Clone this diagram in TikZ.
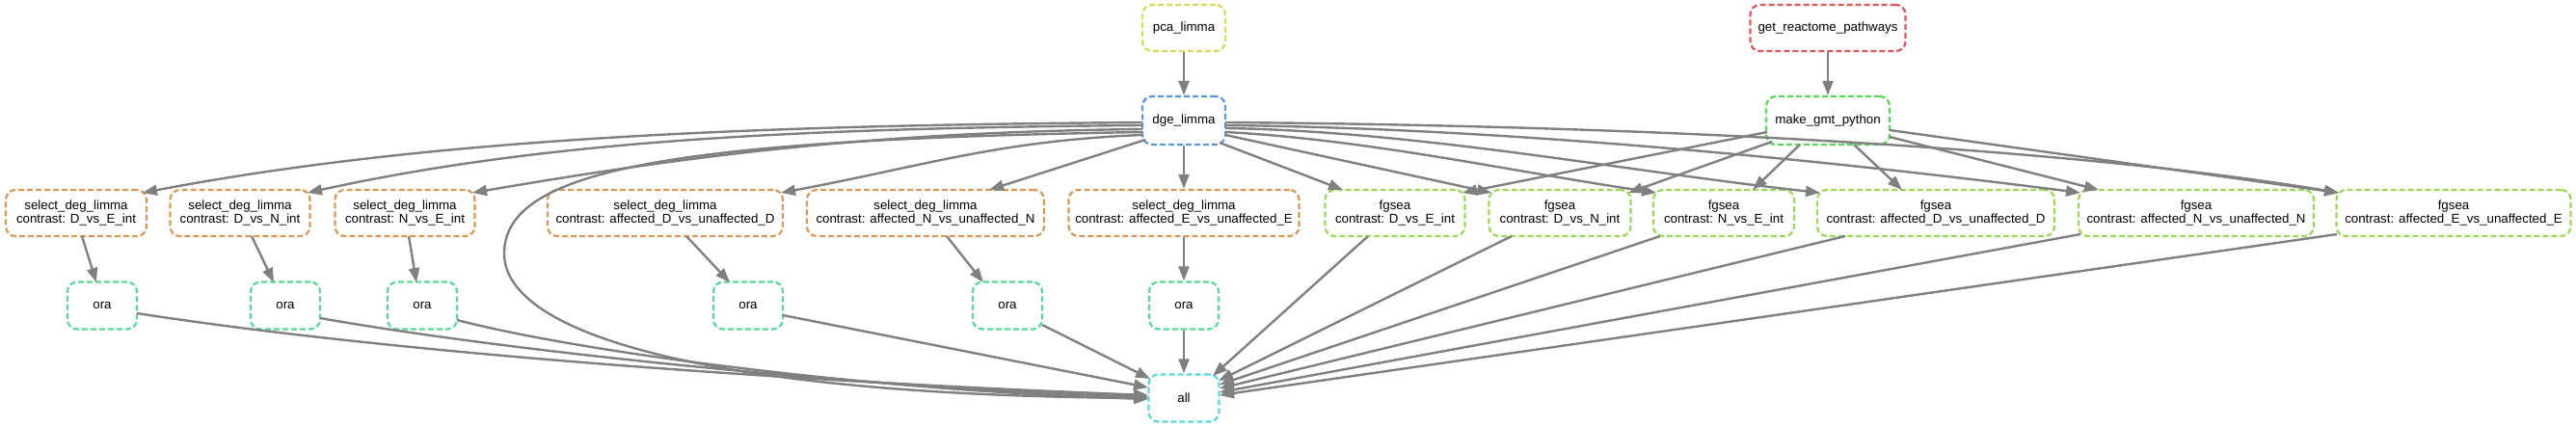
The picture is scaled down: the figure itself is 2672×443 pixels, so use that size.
\documentclass[tikz,border=0pt]{standalone}
\usepackage{fontspec}
\setmainfont{Liberation Sans}
\usetikzlibrary{arrows.meta}
\definecolor{cred}{RGB}{217,87,87}
\definecolor{corange}{RGB}{217,152,87}
\definecolor{cyellow}{RGB}{217,217,87}
\definecolor{cfgsea}{RGB}{152,217,87}
\definecolor{cgreen}{RGB}{87,217,87}
\definecolor{cteal}{RGB}{87,217,152}
\definecolor{ccyan}{RGB}{87,217,217}
\definecolor{cblue}{RGB}{87,152,217}
\definecolor{edgegray}{RGB}{128,128,128}
\begin{document}
\begin{tikzpicture}[x=1pt,y=-1pt,
  box/.style={draw, dash pattern=on 6pt off 3pt, line width=2.2pt, rounded corners=10pt,
    minimum height=48pt, inner sep=0pt, align=center,
    font=\fontsize{13.3}{14.3}\selectfont},
  conn/.style={draw=edgegray, line width=2.4pt, -{Triangle[length=15pt,width=11pt]}}]
\useasboundingbox (0,0) rectangle (2672,443);
% top rows
\node[box, draw=cyellow, minimum width=86pt] (pca) at (1228,29) {pca\_limma};
\node[box, draw=cred, minimum width=161pt] (rea) at (1896,29) {get\_reactome\_pathways};
\node[box, draw=cblue, minimum width=86pt, minimum height=50pt] (dge) at (1228,125) {dge\_limma};
\node[box, draw=cgreen, minimum width=128pt, minimum height=50pt] (gmt) at (1896,125) {make\_gmt\_python};
% select_deg_limma row
\node[box, draw=corange, minimum width=146pt] (sdl1) at (79,221) {select\_deg\_limma\\contrast: D\_vs\_E\_int};
\node[box, draw=corange, minimum width=145pt] (sdl2) at (249,221) {select\_deg\_limma\\contrast: D\_vs\_N\_int};
\node[box, draw=corange, minimum width=145pt] (sdl3) at (420,221) {select\_deg\_limma\\contrast: N\_vs\_E\_int};
\node[box, draw=corange, minimum width=244pt] (sdl4) at (690,221) {select\_deg\_limma\\contrast: affected\_D\_vs\_unaffected\_D};
\node[box, draw=corange, minimum width=246pt] (sdl5) at (960,221) {select\_deg\_limma\\contrast: affected\_N\_vs\_unaffected\_N};
\node[box, draw=corange, minimum width=239pt] (sdl6) at (1228,221) {select\_deg\_limma\\contrast: affected\_E\_vs\_unaffected\_E};
% fgsea row
\node[box, draw=cfgsea, minimum width=145pt] (fg1) at (1447,221) {fgsea\\contrast: D\_vs\_E\_int};
\node[box, draw=cfgsea, minimum width=147pt] (fg2) at (1618,221) {fgsea\\contrast: D\_vs\_N\_int};
\node[box, draw=cfgsea, minimum width=146pt] (fg3) at (1788,221) {fgsea\\contrast: N\_vs\_E\_int};
\node[box, draw=cfgsea, minimum width=246pt] (fg4) at (2008,221) {fgsea\\contrast: affected\_D\_vs\_unaffected\_D};
\node[box, draw=cfgsea, minimum width=244pt] (fg5) at (2278,221) {fgsea\\contrast: affected\_N\_vs\_unaffected\_N};
\node[box, draw=cfgsea, minimum width=243pt] (fg6) at (2545,221) {fgsea\\contrast: affected\_E\_vs\_unaffected\_E};
% ora row
\node[box, draw=cteal, minimum width=72pt, minimum height=49pt] (ora1) at (106,317) {ora};
\node[box, draw=cteal, minimum width=72pt, minimum height=49pt] (ora2) at (296,317) {ora};
\node[box, draw=cteal, minimum width=72pt, minimum height=49pt] (ora3) at (438,317) {ora};
\node[box, draw=cteal, minimum width=72pt, minimum height=49pt] (ora4) at (776,317) {ora};
\node[box, draw=cteal, minimum width=72pt, minimum height=49pt] (ora5) at (1045,317) {ora};
\node[box, draw=cteal, minimum width=72pt, minimum height=49pt] (ora6) at (1228,317) {ora};
% all
\node[box, draw=ccyan, minimum width=73pt, minimum height=49pt] (all) at (1228,413) {all};
\coordinate (bendpt) at (523,263);

% edges top
\draw[conn] (pca.south) -- (dge.north);
\draw[conn] (rea.south) -- (gmt.north);
% dge -> select_deg_limma
\draw[conn] ([shift={(-43,2)}]dge.center) .. controls +(-400,3) and +(300,-57) .. ([shift={(69,-21)}]sdl1.center);
\draw[conn] ([shift={(-43,5)}]dge.center) .. controls +(-350,3) and +(250,-55) .. ([shift={(70,-21)}]sdl2.center);
\draw[conn] ([shift={(-43,9)}]dge.center) .. controls +(-300,3) and +(200,-34) .. ([shift={(70,-21)}]sdl3.center);
\draw[conn] ([shift={(-43,15)}]dge.center) .. controls +(-150,6) and +(150,-28) .. ([shift={(120,-21)}]sdl4.center);
\draw[conn] ([shift={(-40,20)}]dge.center) -- ([shift={(66,-24)}]sdl5.center);
\draw[conn] (dge.south) -- (sdl6.north);
% dge -> all
\draw[conn] ([shift={(-43,12)}]dge.center) .. controls +(-485,8) and +(0,-88) .. (bendpt)
  .. controls +(0,87) and +(-441,-3) .. ([shift={(-37,0)}]all.center);
% dge -> fgsea
\draw[conn] ([shift={(37,23)}]dge.center) -- ([shift={(-54,-24)}]fg1.center);
\draw[conn] ([shift={(43,15)}]dge.center) -- ([shift={(-71,-21)}]fg2.center);
\draw[conn] ([shift={(43,12)}]dge.center) .. controls +(150,8) and +(-150,-22) .. ([shift={(-70,-21)}]fg3.center);
\draw[conn] ([shift={(43,8)}]dge.center) .. controls +(200,3) and +(-200,-22) .. ([shift={(-120,-21)}]fg4.center);
\draw[conn] ([shift={(43,5)}]dge.center) .. controls +(300,3) and +(-250,-32) .. ([shift={(-120,-21)}]fg5.center);
\draw[conn] ([shift={(43,2)}]dge.center) .. controls +(400,3) and +(-300,-50) .. ([shift={(-119,-21)}]fg6.center);
% make_gmt -> fgsea
\draw[conn] ([shift={(-63,12)}]gmt.center) -- ([shift={(70,-21)}]fg1.center);
\draw[conn] ([shift={(-58,22)}]gmt.center) -- ([shift={(71,-21)}]fg2.center);
\draw[conn] ([shift={(-29,25)}]gmt.center) -- ([shift={(30,-24)}]fg3.center);
\draw[conn] ([shift={(27,25)}]gmt.center) -- ([shift={(-35,-24)}]fg4.center);
\draw[conn] ([shift={(64,17)}]gmt.center) -- ([shift={(-101,-24)}]fg5.center);
\draw[conn] ([shift={(64,10)}]gmt.center) -- ([shift={(-119,-21)}]fg6.center);
% select -> ora
\draw[conn] ([shift={(6,24)}]sdl1.center) -- ([shift={(-6,-24)}]ora1.center);
\draw[conn] ([shift={(12,24)}]sdl2.center) -- ([shift={(-12,-24)}]ora2.center);
\draw[conn] ([shift={(4,24)}]sdl3.center) -- ([shift={(-6,-24)}]ora3.center);
\draw[conn] ([shift={(22,24)}]sdl4.center) -- ([shift={(-19,-24)}]ora4.center);
\draw[conn] ([shift={(22,24)}]sdl5.center) -- ([shift={(-25,-24)}]ora5.center);
\draw[conn] (sdl6.south) -- (ora6.north);
% ora -> all
\draw[conn] ([shift={(36,8)}]ora1.center) .. controls +(258,40) and +(-391,-15) .. ([shift={(-37,-3)}]all.center);
\draw[conn] ([shift={(36,13)}]ora2.center) .. controls +(168,30) and +(-341,-12) .. ([shift={(-37,-1)}]all.center);
\draw[conn] ([shift={(36,15)}]ora3.center) .. controls +(126,33) and +(-291,-9) .. ([shift={(-37,1)}]all.center);
\draw[conn] ([shift={(36,10)}]ora4.center) -- ([shift={(-37,-11)}]all.center);
\draw[conn] ([shift={(36,20)}]ora5.center) -- ([shift={(-35,-20)}]all.center);
\draw[conn] (ora6.south) -- (all.north);
% fgsea -> all
\draw[conn] ([shift={(-28,24)}]fg1.center) -- ([shift={(30,-23)}]all.center);
\draw[conn] ([shift={(-50,24)}]fg2.center) -- ([shift={(36,-18)}]all.center);
\draw[conn] ([shift={(-66,24)}]fg3.center) -- ([shift={(37,-14)}]all.center);
\draw[conn] ([shift={(-94,24)}]fg4.center) -- ([shift={(37,-10)}]all.center);
\draw[conn] ([shift={(-120,22)}]fg5.center) -- ([shift={(37,-6)}]all.center);
\draw[conn] ([shift={(-121,22)}]fg6.center) -- ([shift={(37,-3)}]all.center);
\end{tikzpicture}
\end{document}
